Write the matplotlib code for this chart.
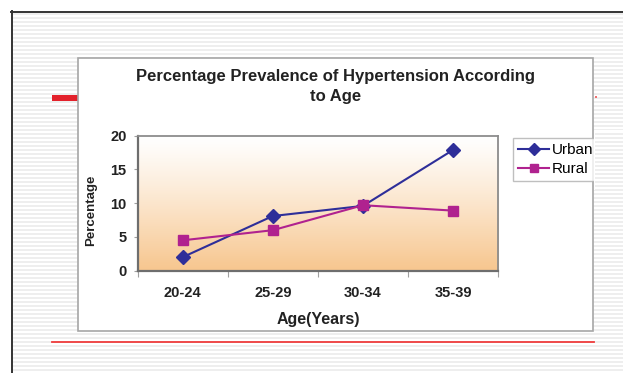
import numpy as np
import matplotlib
matplotlib.use("Agg")
import matplotlib.pyplot as plt
from matplotlib.patches import Rectangle

# ---- data ----
age_groups = ["20-24", "25-29", "30-34", "35-39"]
urban = [2.0, 8.1, 9.6, 17.9]
rural = [4.5, 6.0, 9.7, 8.9]
y_ticks = [0, 5, 10, 15, 20]

title = "Percentage Prevalence of Hypertension According\nto Age"
x_label = "Age(Years)"
y_label = "Percentage"

W, H = 623, 373
DPI = 100
plt.rcParams["font.family"] = ["Liberation Sans", "DejaVu Sans"]

fig = plt.figure(figsize=(W / DPI, H / DPI), dpi=DPI)
fig.patch.set_facecolor("white")


def px_axes(x0, y0, x1, y1, zorder):
    """Axes placed by pixel box (top-left origin) with pixel data coords."""
    a = fig.add_axes([x0 / W, 1 - y1 / H, (x1 - x0) / W, (y1 - y0) / H])
    a.set_xlim(x0, x1)
    a.set_ylim(y1, y0)
    a.axis("off")
    a.set_zorder(zorder)
    return a


def stripes(a, x0, x1, y0, y1):
    for y in np.arange(y0, y1, 4.0):
        a.add_patch(Rectangle((x0, y), x1 - x0, 2.0, facecolor="#eeeeee",
                              edgecolor="none", zorder=1))


# ---- slide background ----
bg = px_axes(0, 0, W, H, 0)
stripes(bg, 12, W, 13, H)
bg.plot([11.5, 11.5], [11, H], color="#333333", lw=1.4, zorder=3)
bg.plot([11, W], [11.5, 11.5], color="#333333", lw=1.4, zorder=3)
# red rules of the slide
bg.add_patch(Rectangle((52, 95), 26, 6, facecolor="#e3212b", edgecolor="none", zorder=2))
bg.add_patch(Rectangle((595, 96), 2, 2, facecolor="#f07070", edgecolor="none", zorder=2))
bg.plot([52, 594], [342, 342], color="#ee3b3b", lw=1.3, zorder=2)
# chart frame
bg.add_patch(Rectangle((78, 58), 515, 273, facecolor="white",
                       edgecolor="#a6a6a6", lw=1.2, zorder=4))

fig.text(336 / W, 1 - 86.5 / H, title, ha="center", va="center",
         fontsize=12, fontweight="bold", color="#222222", linespacing=1.4)

# ---- plot area ----
L, T, R, B = 137.5, 135.7, 498.3, 270.7
ax = fig.add_axes([L / W, 1 - B / H, (R - L) / W, (B - T) / H])
ax.set_zorder(5)
ax.set_xlim(-0.5, 3.5)
ax.set_ylim(0, 20)

# white-to-peach vertical gradient fill
t = np.linspace(0, 1, 256)[:, None] ** 1.15
top = np.array([1.0, 1.0, 1.0])
bot = np.array([247, 198, 142]) / 255.0
grad = (1 - t)[..., None] * top + t[..., None] * bot
ax.imshow(grad, extent=(-0.5, 3.5, 0, 20), aspect="auto", origin="upper", zorder=0)

x = np.arange(len(age_groups))
ax.plot(x, urban, color="#2e2e99", lw=1.5, marker="D", markersize=7,
        label="Urban", zorder=3)
ax.plot(x, rural, color="#b0228f", lw=1.5, marker="s", markersize=7.5,
        label="Rural", zorder=3)

ax.set_yticks(y_ticks)
ax.set_yticklabels([str(v) for v in y_ticks], fontsize=10.5, fontweight="bold",
                   color="#222222")
ax.set_xticks([-0.5, 0.5, 1.5, 2.5, 3.5])
ax.set_xticklabels([])
ax.set_xticks(x, minor=True)
ax.set_xticklabels(age_groups, minor=True, fontsize=10.5, fontweight="bold",
                   color="#222222")
ax.tick_params(axis="x", which="major", length=4, color="#a0a0a0", direction="out")
ax.tick_params(axis="x", which="minor", length=0, pad=11)
ax.tick_params(axis="y", length=3, color="#a0a0a0", pad=5)

for side in ("top", "right"):
    ax.spines[side].set_color("#8c8c8c")
    ax.spines[side].set_linewidth(1.3)
for side in ("left", "bottom"):
    ax.spines[side].set_color("#6e6e6e")
    ax.spines[side].set_linewidth(1.6)

ax.set_ylabel(y_label, fontsize=9.5, fontweight="bold", color="#222222")
ax.yaxis.set_label_coords(-0.113, 0.45)
ax.set_xlabel(x_label, fontsize=11.5, fontweight="bold", color="#222222")
ax.xaxis.set_label_coords(0.5, -0.306)

# ---- legend ----
leg = fig.legend(loc="upper left", bbox_to_anchor=(513 / W, 1 - 138 / H),
                 frameon=True, fancybox=False, edgecolor="#b0b0b0",
                 fontsize=11, handlelength=2.0, handletextpad=0.2,
                 borderpad=0.35, labelspacing=0.3, borderaxespad=0,
                 markerscale=0.85)
leg.get_frame().set_linewidth(1.0)
leg.set_zorder(6)

# slide background continues past the chart frame's right edge
mask = px_axes(593.5, 130, W, 190, 7)
mask.add_patch(Rectangle((593.5, 130), W - 593.5, 60, facecolor="white",
                         edgecolor="none", zorder=0))
stripes(mask, 594.5, W, 133, 190)
mask.plot([593.4, 593.4], [130, 190], color="#a6a6a6", lw=1.2, zorder=3)

fig.savefig("out.png", dpi=DPI)
